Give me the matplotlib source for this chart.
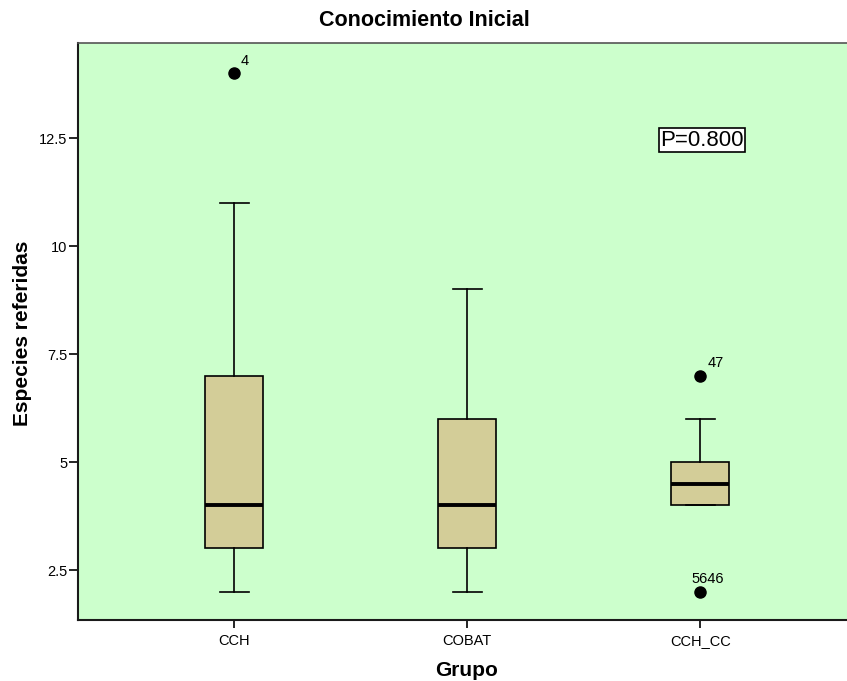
import matplotlib.pyplot as plt

plt.rcParams['font.family'] = ['Liberation Sans', 'DejaVu Sans']

# box statistics
grupos = ['CCH', 'COBAT', 'CCH_CC']
whislo = [2, 2, 4]
q1 = [3, 3, 4]
med = [4, 4, 4.5]
q3 = [7, 6, 5]
whishi = [11, 9, 6]
fliers = [[14], [], [7, 2]]
flier_ids = [['4'], [], ['47', '5646']]
p_text = 'P=0.800'

fig = plt.figure(figsize=(8.47, 6.81), dpi=100)
ax = fig.add_axes([78/847, 1-620/681, 1-78/847, (620-43)/681])
ax.set_facecolor('#CCFFCC')

stats = []
for i in range(len(grupos)):
    stats.append(dict(label=grupos[i], whislo=whislo[i], q1=q1[i], med=med[i],
                      q3=q3[i], whishi=whishi[i], fliers=fliers[i]))

pos = [1, 2, 3]
ax.bxp(stats, positions=pos, widths=0.25, patch_artist=True,
       boxprops=dict(facecolor='#D3CD98', edgecolor='black', linewidth=1.2),
       medianprops=dict(color='black', linewidth=2.8),
       whiskerprops=dict(color='black', linewidth=1.2),
       capprops=dict(color='black', linewidth=1.2),
       capwidths=0.125,
       flierprops=dict(marker='o', markerfacecolor='black', markeredgecolor='black',
                       markersize=8))

# case labels next to the outliers
for i in range(len(grupos)):
    for v, lab in zip(fliers[i], flier_ids[i]):
        dx = 5 if len(lab) < 3 else -6
        ax.annotate(lab, (pos[i], v), xytext=(dx, 4), textcoords='offset points',
                    fontsize=10.5, ha='left', va='bottom')

ax.set_xlim(0.33, 3.63)
ax.set_ylim(1.343, 14.70)
ax.set_yticks([2.5, 5, 7.5, 10, 12.5])
ax.set_yticklabels(['2.5', '5', '7.5', '10', '12.5'])
ax.set_xticks(pos)
ax.set_xticklabels(grupos)
ax.tick_params(axis='both', direction='out', length=6.5, width=1.2, labelsize=10.5,
               color='black')
ax.tick_params(axis='y', pad=1)
ax.tick_params(axis='x', length=6, pad=4)

for s in ['left', 'bottom']:
    ax.spines[s].set_linewidth(1.5)
    ax.spines[s].set_color('#1a1a1a')
ax.spines['top'].set_color('#555555')
ax.spines['top'].set_linewidth(1.2)
ax.spines['right'].set_visible(False)

ax.text(2.83, 12.45, p_text, fontsize=16, ha='left', va='center',
        bbox=dict(boxstyle='square,pad=0.06', facecolor='white', edgecolor='black',
                  linewidth=1.2))

fig.text(424/847, 1-20/681, 'Conocimiento Inicial', fontsize=15.5, fontweight='bold',
         ha='center', va='center')
fig.text(467/847, 1-670/681, 'Grupo', fontsize=15, fontweight='bold',
         ha='center', va='center')
fig.text(23/847, 1-333/681, 'Especies referidas', fontsize=15, fontweight='bold',
         ha='center', va='center', rotation=90)

fig.savefig('out.png', dpi=100)
